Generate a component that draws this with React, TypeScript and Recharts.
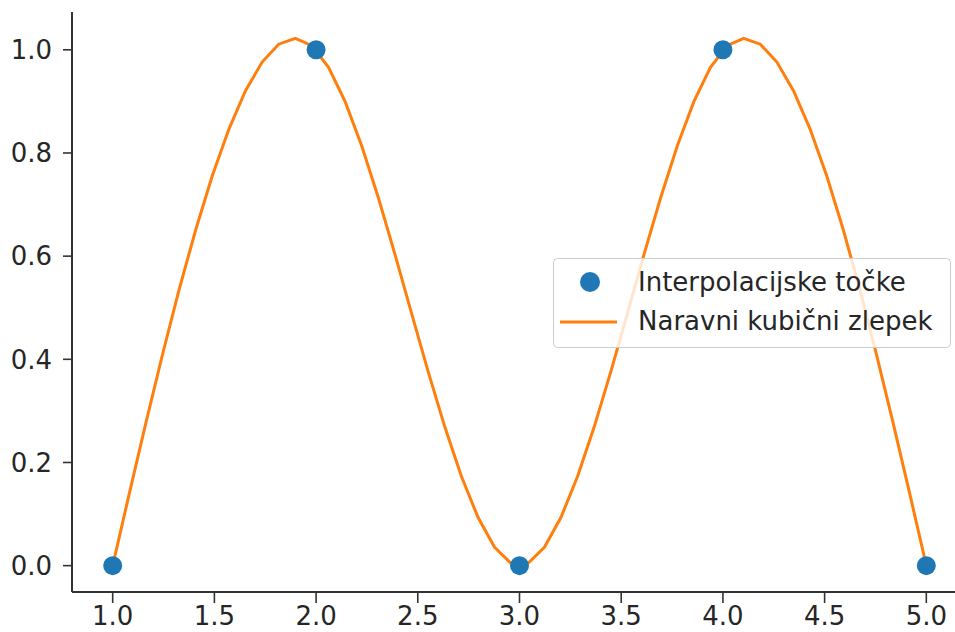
import React from "react";
import {
  ComposedChart,
  Line,
  Scatter,
  XAxis,
  YAxis,
  Legend,
} from "recharts";

const pointX = [1, 2, 3, 4, 5];
const pointY = [0, 1, 0, 1, 0];

const splineX = [
  1.0, 1.0816, 1.1633, 1.2449, 1.3265, 1.4082, 1.4898, 1.5714, 1.6531, 1.7347,
  1.8163, 1.898, 1.9796, 2.0612, 2.1429, 2.2245, 2.3061, 2.3878, 2.4694, 2.551,
  2.6327, 2.7143, 2.7959, 2.8776, 2.9592, 3.0408, 3.1224, 3.2041, 3.2857, 3.3673,
  3.449, 3.5306, 3.6122, 3.6939, 3.7755, 3.8571, 3.9388, 4.0204, 4.102, 4.1837,
  4.2653, 4.3469, 4.4286, 4.5102, 4.5918, 4.6735, 4.7551, 4.8367, 4.9184, 5.0,
];
const splineY = [
  0, 0.1396, 0.2768, 0.4093, 0.5349, 0.6511, 0.7557, 0.8463, 0.9206, 0.9762,
  1.0109, 1.0222, 1.0079, 0.9661, 0.8996, 0.8136, 0.7131, 0.6033, 0.4892, 0.3761,
  0.2691, 0.1733, 0.0937, 0.0357, 0.0042, 0.0042, 0.0357, 0.0937, 0.1733, 0.2691,
  0.3761, 0.4892, 0.6033, 0.7131, 0.8136, 0.8996, 0.9661, 1.0079, 1.0222, 1.0109,
  0.9762, 0.9206, 0.8463, 0.7557, 0.6511, 0.5349, 0.4093, 0.2768, 0.1396, 0,
];

const xTicks = [1.0, 1.5, 2.0, 2.5, 3.0, 3.5, 4.0, 4.5, 5.0];
const yTicks = [0.0, 0.2, 0.4, 0.6, 0.8, 1.0];
const xDomain = [0.8, 5.2];
const yDomain = [-0.0511, 1.0733];

const seriesNames = ["Interpolacijske točke", "Naravni kubični zlepek"];

const BLUE = "#1f77b4";
const ORANGE = "#ff7f0e";
const SPINE = "#333333";
const TEXT = "#262626";
const FONT = "DejaVu Sans";
const FS = 26;

const pointData = pointX.map((x, i) => ({ x, y: pointY[i] }));
const lineData = splineX.map((x, i) => ({ x, y: splineY[i] }));

const Dot = (props: any) => {
  const { cx, cy } = props;
  if (cx == null || cy == null) return null;
  return <circle cx={cx} cy={cy} r={9.5} fill={BLUE} />;
};

const renderLegend = () => (
  <svg width={398} height={90} style={{ display: "block" }}>
    <rect
      x={0.5}
      y={0.5}
      width={397}
      height={89}
      rx={4}
      ry={4}
      fill="rgba(255,255,255,0.8)"
      stroke="#cccccc"
      strokeWidth={1}
    />
    <circle cx={37} cy={24} r={10} fill={BLUE} />
    <line x1={7} y1={64} x2={64} y2={64} stroke={ORANGE} strokeWidth={3} />
    <text x={85} y={33} fontFamily={FONT} fontSize={FS} fill={TEXT}>
      {seriesNames[0]}
    </text>
    <text x={85} y={72} fontFamily={FONT} fontSize={FS} fill={TEXT}>
      {seriesNames[1]}
    </text>
  </svg>
);

export default function App() {
  return (
    <div
      style={{
        position: "absolute",
        left: 0,
        top: 0,
        width: 955,
        height: 632,
        overflow: "hidden",
        background: "#ffffff",
      }}
    >
      <ComposedChart
        width={975}
        height={632}
        margin={{ top: 12, right: 8, bottom: 0, left: 0 }}
        style={{ fontFamily: FONT }}
      >
        <XAxis
          xAxisId="main"
          dataKey="x"
          type="number"
          domain={xDomain}
          ticks={xTicks}
          allowDataOverflow
          tickFormatter={(v: number) => v.toFixed(1)}
          height={40}
          tickSize={11}
          tickMargin={4}
          axisLine={{ stroke: SPINE, strokeWidth: 2 }}
          tickLine={{ stroke: SPINE, strokeWidth: 1.6 }}
          tick={{ fill: TEXT, fontSize: FS, fontFamily: FONT }}
        />
        <XAxis
          xAxisId="top"
          orientation="top"
          type="number"
          domain={xDomain}
          allowDataOverflow
          height={0}
          tick={false}
          tickLine={false}
          axisLine={{ stroke: SPINE, strokeWidth: 2 }}
        />
        <YAxis
          type="number"
          domain={yDomain}
          ticks={yTicks}
          allowDataOverflow
          tickFormatter={(v: number) => v.toFixed(1)}
          width={72}
          tickSize={9}
          tickMargin={11}
          axisLine={{ stroke: SPINE, strokeWidth: 2 }}
          tickLine={{ stroke: SPINE, strokeWidth: 1.6 }}
          tick={{ fill: TEXT, fontSize: FS, fontFamily: FONT }}
        />
        <Scatter
          xAxisId="main"
          name={seriesNames[0]}
          data={pointData}
          dataKey="y"
          fill={BLUE}
          shape={Dot}
          isAnimationActive={false}
        />
        <Line
          xAxisId="main"
          name={seriesNames[1]}
          data={lineData}
          dataKey="y"
          type="linear"
          stroke={ORANGE}
          strokeWidth={3}
          dot={false}
          activeDot={false}
          isAnimationActive={false}
        />
        <Legend
          layout="horizontal"
          verticalAlign="middle"
          align="center"
          content={renderLegend}
          wrapperStyle={{
            position: "absolute",
            left: 553,
            top: 258,
            width: 398,
            height: 90,
          }}
        />
      </ComposedChart>
    </div>
  );
}
